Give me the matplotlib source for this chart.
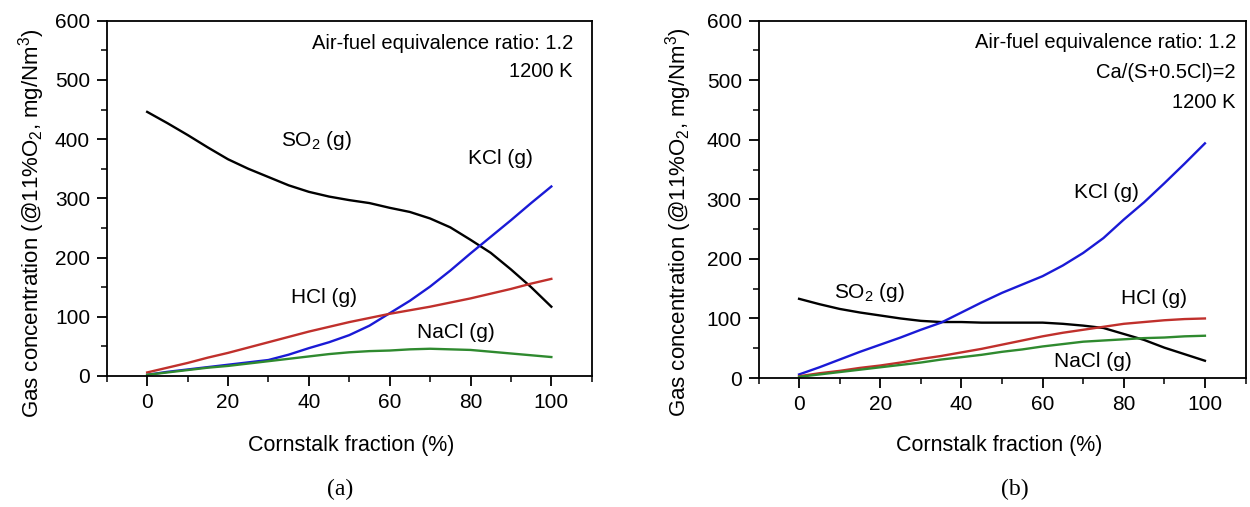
import matplotlib
matplotlib.use("Agg")
import matplotlib.pyplot as plt
from matplotlib.ticker import MultipleLocator

plt.rcParams['font.family'] = ['Liberation Sans', 'DejaVu Sans']
plt.rcParams['mathtext.fontset'] = 'custom'
plt.rcParams['mathtext.rm'] = 'Liberation Sans'
plt.rcParams['mathtext.it'] = 'Liberation Sans'

x = [0, 5, 10, 15, 20, 25, 30, 35, 40, 45, 50, 55, 60, 65, 70, 75, 80, 85, 90, 95, 100]

# Panel (a)
so2_a = [446, 427, 407, 386, 366, 350, 336, 322, 311, 303, 297, 292, 284, 277, 266, 251, 230, 208, 180, 150, 117]
kcl_a = [2, 7, 11, 15, 19, 23, 27, 36, 47, 57, 69, 85, 106, 127, 151, 178, 207, 235, 263, 292, 320]
hcl_a = [6, 14, 22, 31, 39, 48, 57, 66, 75, 83, 91, 98, 105, 111, 117, 124, 131, 139, 147, 156, 164]
nacl_a = [2, 6, 10, 14, 17, 21, 25, 29, 33, 37, 40, 42, 43, 45, 46, 45, 44, 41, 38, 35, 32]

# Panel (b)
so2_b = [133, 124, 116, 110, 105, 100, 96, 94, 94, 93, 93, 93, 93, 91, 88, 84, 74, 64, 51, 40, 29]
kcl_b = [6, 18, 31, 44, 56, 68, 81, 93, 110, 127, 143, 157, 171, 189, 210, 235, 266, 295, 327, 360, 394]
hcl_b = [3, 8, 12, 17, 21, 26, 32, 37, 43, 49, 56, 63, 70, 76, 81, 86, 91, 94, 97, 99, 100]
nacl_b = [2, 6, 10, 14, 18, 22, 26, 31, 35, 39, 44, 48, 53, 57, 61, 63, 65, 67, 68, 70, 71]

colors = {'so2': '#000000', 'kcl': '#1a1ad6', 'hcl': '#c0302c', 'nacl': '#2f8a2f'}

fig = plt.figure(figsize=(12.5, 5.07), dpi=100)
ax_a = fig.add_axes([0.0854, 0.2584, 0.388, 0.7008])
ax_b = fig.add_axes([0.6068, 0.2544, 0.3896, 0.7048])

ylabel = 'Gas concentration (@11%O$_2$, mg/Nm$^3$)'

def style(ax):
    ax.set_xlim(-10, 110)
    ax.set_ylim(0, 600)
    ax.xaxis.set_major_locator(MultipleLocator(20))
    ax.xaxis.set_minor_locator(MultipleLocator(10))
    ax.yaxis.set_major_locator(MultipleLocator(100))
    ax.yaxis.set_minor_locator(MultipleLocator(50))
    ax.tick_params(which='major', direction='out', length=7, width=1.3, labelsize=15, pad=5,
                   top=False, right=False)
    ax.tick_params(which='minor', direction='out', length=4.3, width=1.1, top=False, right=False)
    for s in ax.spines.values():
        s.set_linewidth(1.3)
    ax.set_xlabel('Cornstalk fraction (%)', fontsize=15.5)
    ax.set_ylabel(ylabel, fontsize=16)

lw = 1.7
ax_a.plot(x, so2_a, color=colors['so2'], lw=lw)
ax_a.plot(x, kcl_a, color=colors['kcl'], lw=lw)
ax_a.plot(x, hcl_a, color=colors['hcl'], lw=lw)
ax_a.plot(x, nacl_a, color=colors['nacl'], lw=lw)
style(ax_a)
ax_a.xaxis.set_label_coords(0.504, -0.165)
ax_a.yaxis.set_label_coords(-0.123, 0.43)
fs_note = 14.5
fs_lab = 15
ax_a.text(0.961, 0.937, 'Air-fuel equivalence ratio: 1.2', transform=ax_a.transAxes, ha='right', va='center', fontsize=fs_note)
ax_a.text(0.961, 0.856, '1200 K', transform=ax_a.transAxes, ha='right', va='center', fontsize=fs_note)
ax_a.text(33, 398, 'SO$_2$ (g)', ha='left', va='center', fontsize=fs_lab)
ax_a.text(79.5, 368, 'KCl (g)', ha='left', va='center', fontsize=fs_lab)
ax_a.text(35.5, 132, 'HCl (g)', ha='left', va='center', fontsize=fs_lab)
ax_a.text(66.8, 74, 'NaCl (g)', ha='left', va='center', fontsize=fs_lab)

ax_b.plot(x, so2_b, color=colors['so2'], lw=lw)
ax_b.plot(x, kcl_b, color=colors['kcl'], lw=lw)
ax_b.plot(x, hcl_b, color=colors['hcl'], lw=lw)
ax_b.plot(x, nacl_b, color=colors['nacl'], lw=lw)
style(ax_b)
ax_b.xaxis.set_label_coords(0.494, -0.16)
ax_b.yaxis.set_label_coords(-0.132, 0.437)
ax_b.text(0.98, 0.938, 'Air-fuel equivalence ratio: 1.2', transform=ax_b.transAxes, ha='right', va='center', fontsize=fs_note)
ax_b.text(0.98, 0.856, 'Ca/(S+0.5Cl)=2', transform=ax_b.transAxes, ha='right', va='center', fontsize=fs_note)
ax_b.text(0.98, 0.772, '1200 K', transform=ax_b.transAxes, ha='right', va='center', fontsize=fs_note)
ax_b.text(8.6, 144, 'SO$_2$ (g)', ha='left', va='center', fontsize=fs_lab)
ax_b.text(67.7, 312, 'KCl (g)', ha='left', va='center', fontsize=fs_lab)
ax_b.text(79.4, 134, 'HCl (g)', ha='left', va='center', fontsize=fs_lab)
ax_b.text(62.9, 27, 'NaCl (g)', ha='left', va='center', fontsize=fs_lab)

fig.text(340 / 1250, 1 - 489 / 507, '(a)', ha='center', va='center', fontsize=17, family='Liberation Serif')
fig.text(1015 / 1250, 1 - 489 / 507, '(b)', ha='center', va='center', fontsize=17, family='Liberation Serif')

fig.savefig('out.png', dpi=100)
